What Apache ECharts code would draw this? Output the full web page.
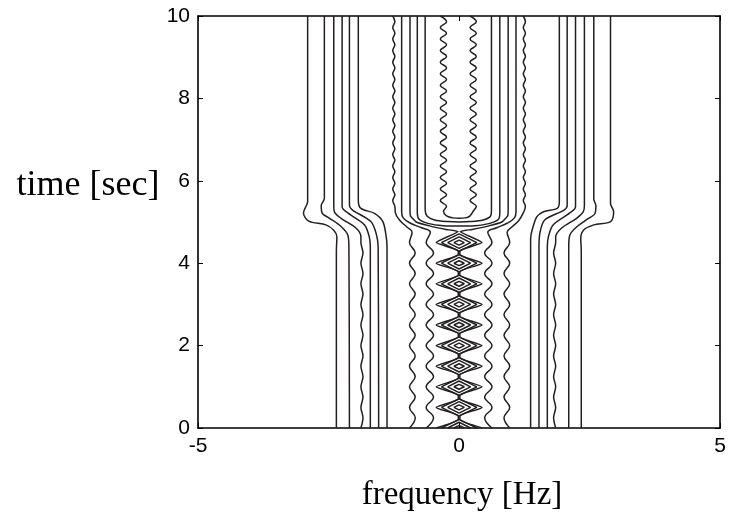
<!DOCTYPE html>
<html>
<head>
<meta charset="utf-8">
<script src="https://cdn.jsdelivr.net/npm/echarts@6/dist/echarts.min.js"></script>
<style>
html, body { margin: 0; padding: 0; background: #fff; }
#chart { width: 729px; height: 522px; }
</style>
</head>
<body>
<div id="chart"></div>
<script>
// sample times of the wiggly parts
var upperT = [10, 9.86, 9.72, 9.58, 9.44, 9.3, 9.16, 9.02, 8.88, 8.74, 8.6, 8.46, 8.32, 8.18, 8.04, 7.9, 7.76, 7.62, 7.48, 7.34, 7.2, 7.06, 6.92, 6.78, 6.64, 6.5, 6.36, 6.22, 6.08, 5.94, 5.8, 5.66, 5.52, 5.38];
var lowerT = [4.75, 4.5, 4.25, 4, 3.75, 3.5, 3.25, 3, 2.75, 2.5, 2.25, 2, 1.75, 1.5, 1.25, 1, 0.75, 0.5, 0.25, 0];
var zT = [4.77, 4.5, 4.3, 4.2, 4, 3.8, 3.7, 3.5, 3.3, 3.2, 3, 2.8, 2.7, 2.5, 2.3, 2.2, 2, 1.8, 1.7, 1.5, 1.3, 1.2, 1, 0.8, 0.7, 0.5, 0.3, 0.2, 0];

// central U (t > 5)
var uLeftX = [-0.36,-0.24,-0.36,-0.24,-0.36,-0.24,-0.36,-0.24,-0.36,-0.24,-0.36,-0.24,-0.36,-0.24,-0.36,-0.24,-0.36,-0.24,-0.36,-0.24,-0.36,-0.24,-0.36,-0.24,-0.36,-0.24,-0.36,-0.24,-0.36,-0.24,-0.36,-0.24,-0.36,-0.24];
var uRightX = [0.21,0.33,0.21,0.33,0.21,0.33,0.21,0.33,0.21,0.33,0.21,0.33,0.21,0.33,0.21,0.33,0.21,0.33,0.21,0.33,0.21,0.33,0.21,0.33,0.21,0.33,0.21,0.33,0.21,0.33,0.21,0.33,0.21,0.33];
var uBottom = [[-0.30, 5.26], [-0.24, 5.15], [-0.12, 5.1], [0, 5.09], [0.12, 5.1], [0.21, 5.15], [0.27, 5.26]];

// slightly wavy line at +-1.25 Hz (t > 5)
var w1UpLeftX = [-1.27,-1.23,-1.27,-1.23,-1.27,-1.23,-1.27,-1.23,-1.27,-1.23,-1.27,-1.23,-1.27,-1.23,-1.27,-1.23,-1.27,-1.23,-1.27,-1.23,-1.27,-1.23,-1.27,-1.23,-1.27,-1.23,-1.27,-1.23,-1.27,-1.23,-1.27,-1.23,-1.27,-1.23];
var w1UpRightX = [1.23,1.27,1.23,1.27,1.23,1.27,1.23,1.27,1.23,1.27,1.23,1.27,1.23,1.27,1.23,1.27,1.23,1.27,1.23,1.27,1.23,1.27,1.23,1.27,1.23,1.27,1.23,1.27,1.23,1.27,1.23,1.27,1.23,1.27];

// wavy lines below t = 5
var w1LowLeftX = [-0.90,-0.95,-0.84,-0.95,-0.84,-0.95,-0.84,-0.95,-0.84,-0.95,-0.84,-0.95,-0.84,-0.95,-0.84,-0.95,-0.84,-0.95,-0.84,-0.95];
var w1LowRightX = [0.92,0.97,0.86,0.97,0.86,0.97,0.86,0.97,0.86,0.97,0.86,0.97,0.86,0.97,0.86,0.97,0.86,0.97,0.86,0.97];
var w2LowLeftX = [-0.55,-0.63,-0.49,-0.63,-0.49,-0.63,-0.49,-0.63,-0.49,-0.63,-0.49,-0.63,-0.49,-0.63,-0.49,-0.63,-0.49,-0.63,-0.49,-0.63];
var w2LowRightX = [0.55,0.63,0.49,0.63,0.49,0.63,0.49,0.63,0.49,0.63,0.49,0.63,0.49,0.63,0.49,0.63,0.49,0.63,0.49,0.63];
var l3LowLeftX = [-1.88,-1.84,-1.88,-1.84,-1.88,-1.84,-1.88,-1.84,-1.88,-1.84,-1.88,-1.84,-1.88,-1.84,-1.88,-1.84,-1.88,-1.84,-1.88];
var l3LowRightX = [1.85,1.81,1.85,1.81,1.85,1.81,1.85,1.81,1.85,1.81,1.85,1.81,1.85,1.81,1.85,1.81,1.85,1.81,1.85];
var zLeftX = [-0.02,-0.44,-0.015,-0.015,-0.44,-0.015,-0.015,-0.44,-0.015,-0.015,-0.44,-0.015,-0.015,-0.44,-0.015,-0.015,-0.44,-0.015,-0.015,-0.44,-0.015,-0.015,-0.44,-0.015,-0.015,-0.44,-0.015,-0.015,-0.44];
var zRightX = [0.02,0.44,0.015,0.015,0.44,0.015,0.015,0.44,0.015,0.015,0.44,0.015,0.015,0.44,0.015,0.015,0.44,0.015,0.015,0.44,0.015,0.015,0.44,0.015,0.015,0.44,0.015,0.015,0.44];

// diamonds on the centre line
var diamondT = [0, 0.5, 1, 1.5, 2, 2.5, 3, 3.5, 4, 4.5];
var ringW = [0.34, 0.22, 0.1];
var ringH = [0.21, 0.14, 0.06];

// outer lines, [f, t]
var L1 = [[-2.90,10],[-2.90,5.5],[-2.98,5.22],[-2.88,5.02],[-2.55,4.93],[-2.40,4.8],[-2.34,4.64],[-2.35,4.3],[-2.35,0]];
var L2 = [[-2.58,10],[-2.58,5.57],[-2.64,5.4],[-2.62,5.21],[-2.48,5.09],[-2.26,4.89],[-2.13,4.68],[-2.11,4.4],[-2.10,0]];
var L3 = [[-2.40,10],[-2.40,5.4],[-2.39,5.25],[-2.26,5.09],[-1.97,4.85],[-1.88,4.64]];
var L4 = [[-2.24,10],[-2.24,5.37],[-2.13,5.22],[-1.81,4.93],[-1.72,4.64],[-1.70,4.4],[-1.70,0]];
var L5 = [[-2.10,10],[-2.10,5.4],[-2.04,5.29],[-1.69,5.01],[-1.59,4.73],[-1.55,4.4],[-1.54,0]];
var L6 = [[-1.93,10],[-1.93,5.53],[-1.88,5.33],[-1.62,5.21],[-1.46,5.01],[-1.40,4.68],[-1.38,4.4],[-1.38,0]];
var R1 = [[2.90,10],[2.90,5.45],[2.96,5.25],[2.90,5.01],[2.58,4.93],[2.39,4.81],[2.33,4.6],[2.34,4.3],[2.34,0]];
var R2 = [[2.58,10],[2.58,5.55],[2.62,5.4],[2.60,5.2],[2.47,5.08],[2.25,4.88],[2.12,4.68],[2.10,4.4],[2.10,0]];
var R3 = [[2.40,10],[2.40,5.4],[2.38,5.25],[2.25,5.09],[1.97,4.86],[1.85,4.64]];
var R4 = [[2.23,10],[2.23,5.37],[2.12,5.22],[1.80,4.93],[1.71,4.64],[1.69,4.4],[1.69,0]];
var R5 = [[2.07,10],[2.07,5.4],[2.01,5.29],[1.64,5.05],[1.55,4.75],[1.53,4.4],[1.53,0]];
var R6 = [[1.92,10],[1.92,5.49],[1.88,5.33],[1.62,5.25],[1.49,5.13],[1.40,4.81],[1.37,4.6],[1.37,0]];

// inner lines and their bends near t = 5
var w1TransLeft = [[-1.22,5.22],[-1.13,5.03],[-1.0,4.88]];
var w1TransRight = [[1.23,5.22],[1.14,5.03],[1.01,4.88]];
var w2TopLeft = [[-1.10,10],[-1.10,5.25],[-1.07,5.1],[-0.93,4.97],[-0.72,4.86]];
var w2TopRight = [[1.09,10],[1.09,5.25],[1.06,5.1],[0.92,4.97],[0.72,4.86]];
var zTopLeft = [[-0.94,10],[-0.94,5.3],[-0.93,5.15],[-0.82,5.0],[-0.55,4.9],[-0.25,4.82]];
var zTopRight = [[0.94,10],[0.94,5.3],[0.93,5.15],[0.82,5.0],[0.55,4.9],[0.25,4.82]];
var U80 = [[-0.80,10],[-0.80,5.22],[-0.76,5.06],[-0.58,4.96],[-0.3,4.91],[0,4.9],[0.3,4.91],[0.57,4.96],[0.75,5.06],[0.78,5.22],[0.78,10]];
var U65 = [[-0.65,10],[-0.65,5.3],[-0.61,5.14],[-0.47,5.05],[-0.22,5.01],[0,5.0],[0.22,5.01],[0.46,5.05],[0.60,5.14],[0.62,5.3],[0.62,10]];

function zip(xs, ts) {
    return xs.map(function (x, i) { return [x, ts[i]]; });
}

var lowT3 = lowerT.slice(1);

var uLine = zip(uLeftX, upperT).concat(uBottom, zip(uRightX, upperT).reverse());

var diamonds = ringW.map(function (w, r) {
    var h = ringH[r];
    var pts = [];
    diamondT.forEach(function (t) {
        pts.push([-w, t], [0, t + h], [w, t], [0, t - h], [-w, t], '-');
    });
    return pts;
});

var lines = [
    { data: L1, smooth: 0.3 }, { data: L2, smooth: 0.3 },
    { data: L3.concat(zip(l3LowLeftX, lowT3)), smooth: 0.3 },
    { data: L4, smooth: 0.3 }, { data: L5, smooth: 0.3 }, { data: L6, smooth: 0.3 },
    { data: R1, smooth: 0.3 }, { data: R2, smooth: 0.3 },
    { data: R3.concat(zip(l3LowRightX, lowT3)), smooth: 0.3 },
    { data: R4, smooth: 0.3 }, { data: R5, smooth: 0.3 }, { data: R6, smooth: 0.3 },
    { data: zip(w1UpLeftX, upperT).concat(w1TransLeft, zip(w1LowLeftX, lowerT)), smooth: 0.4 },
    { data: zip(w1UpRightX, upperT).concat(w1TransRight, zip(w1LowRightX, lowerT)), smooth: 0.4 },
    { data: w2TopLeft.concat(zip(w2LowLeftX, lowerT)), smooth: 0.4 },
    { data: w2TopRight.concat(zip(w2LowRightX, lowerT)), smooth: 0.4 },
    { data: zTopLeft.concat(zip(zLeftX, zT)), smooth: 0.15 },
    { data: zTopRight.concat(zip(zRightX, zT)), smooth: 0.15 },
    { data: U80, smooth: 0.3 }, { data: U65, smooth: 0.3 },
    { data: uLine, smooth: 0.4 },
    { data: diamonds[0], smooth: false }, { data: diamonds[1], smooth: false }, { data: diamonds[2], smooth: false }
];

var series = lines.map(function (l) {
    return {
        type: 'line',
        data: l.data,
        smooth: l.smooth,
        showSymbol: false,
        symbol: 'none',
        connectNulls: false,
        silent: true,
        lineStyle: { color: '#231f20', width: 1.5 }
    };
});

var myChart = echarts.init(document.getElementById('chart'), null, { renderer: 'canvas' });

var axisCommon = {
    axisLine: { show: true, onZero: false, lineStyle: { color: '#000', width: 1.6 } },
    axisTick: { show: true, inside: true, length: 5, lineStyle: { color: '#000', width: 1 } },
    splitLine: { show: false }
};

var option = {
    animation: false,
    backgroundColor: '#fff',
    grid: { left: 198, right: 7, top: 16, bottom: 94 },
    xAxis: [
        Object.assign({
            type: 'value', min: -5, max: 5, interval: 5, position: 'bottom',
            axisLabel: { color: '#000', fontSize: 21, fontFamily: 'Liberation Sans', margin: 8 }
        }, axisCommon),
        Object.assign({
            type: 'value', min: -5, max: 5, interval: 5, position: 'top',
            axisLabel: { show: false }
        }, axisCommon)
    ],
    yAxis: [
        Object.assign({
            type: 'value', min: 0, max: 10, interval: 2, position: 'left',
            axisLabel: { color: '#000', fontSize: 21, fontFamily: 'Liberation Sans', margin: 8 }
        }, axisCommon),
        Object.assign({
            type: 'value', min: 0, max: 10, interval: 2, position: 'right',
            axisLabel: { show: false }
        }, axisCommon)
    ],
    graphic: [
        {
            type: 'text', x: 88, y: 186,
            style: { text: 'time [sec]', fill: '#000', font: '36px "Liberation Serif"', align: 'center', verticalAlign: 'middle' }
        },
        {
            type: 'text', x: 462, y: 495,
            style: { text: 'frequency [Hz]', fill: '#000', font: '33px "Liberation Serif"', align: 'center', verticalAlign: 'middle' }
        }
    ],
    series: series
};

myChart.setOption(option);
</script>
</body>
</html>
